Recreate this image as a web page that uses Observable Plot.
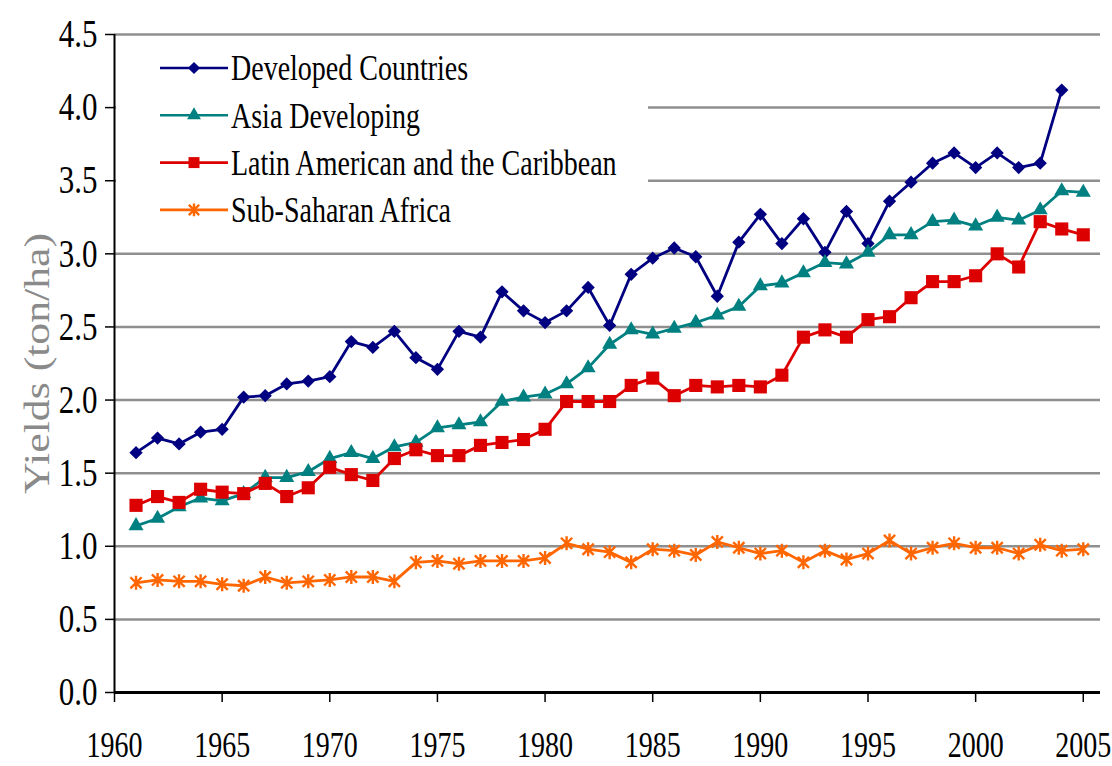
<!DOCTYPE html>
<html><head><meta charset="utf-8">
<script src="https://cdn.jsdelivr.net/npm/d3@7"></script>
<script src="https://cdn.jsdelivr.net/npm/@observablehq/plot@0.6"></script>
<style>body{margin:0;background:#fff;}</style>
</head><body><div id="chart"></div>
<script>
const years = [1961,1962,1963,1964,1965,1966,1967,1968,1969,1970,
  1971,1972,1973,1974,1975,1976,1977,1978,1979,1980,
  1981,1982,1983,1984,1985,1986,1987,1988,1989,1990,
  1991,1992,1993,1994,1995,1996,1997,1998,1999,2000,
  2001,2002,2003,2004,2005];
const developed = [1.64,1.74,1.70,1.78,1.80,2.02,2.03,2.11,2.13,2.16,
  2.40,2.36,2.47,2.29,2.21,2.47,2.43,2.74,2.61,2.53,
  2.61,2.77,2.51,2.86,2.97,3.04,2.98,2.71,3.08,3.27,
  3.07,3.24,3.01,3.29,3.07,3.36,3.49,3.62,3.69,3.59,
  3.69,3.59,3.62,4.12];
const asia = [1.14,1.19,1.27,1.33,1.31,1.36,1.47,1.47,1.51,1.60,
  1.64,1.60,1.68,1.71,1.81,1.83,1.85,1.99,2.02,2.04,
  2.11,2.22,2.38,2.48,2.45,2.49,2.53,2.58,2.64,2.78,
  2.80,2.87,2.94,2.93,3.01,3.13,3.13,3.22,3.23,3.19,
  3.25,3.23,3.30,3.43,3.42];
const latin = [1.28,1.34,1.30,1.39,1.37,1.36,1.43,1.34,1.40,1.54,
  1.49,1.45,1.60,1.66,1.62,1.62,1.69,1.71,1.73,1.80,
  1.99,1.99,1.99,2.10,2.15,2.03,2.10,2.09,2.10,2.09,
  2.17,2.43,2.48,2.43,2.55,2.57,2.70,2.81,2.81,2.85,
  3.00,2.91,3.22,3.17,3.13];
const ssa = [0.75,0.77,0.76,0.76,0.74,0.73,0.79,0.75,0.76,0.77,
  0.79,0.79,0.76,0.89,0.90,0.88,0.90,0.90,0.90,0.92,
  1.02,0.98,0.96,0.89,0.98,0.97,0.94,1.03,0.99,0.95,
  0.97,0.89,0.97,0.91,0.95,1.04,0.95,0.99,1.02,0.99,
  0.99,0.95,1.01,0.97,0.98];
const seriesNames = ["Developed Countries","Asia Developing","Latin American and the Caribbean","Sub-Saharan Africa"];
const seriesColors = ["#000080","#008080","#DD0000","#FF6600"];
const yTicks = [0,0.5,1,1.5,2,2.5,3,3.5,4,4.5];
const xTicks = [1960,1965,1970,1975,1980,1985,1990,1995,2000,2005];
const yLabel = "Yields (ton/ha)";

const starX = {draw(ctx, size) {
  const r = Math.sqrt(size / Math.PI), d = r * 0.8;
  ctx.moveTo(-d, -d); ctx.lineTo(d, d);
  ctx.moveTo(-d, d); ctx.lineTo(d, -d);
  ctx.moveTo(0, -r); ctx.lineTo(0, r);
}};

const seriesValues = [developed, asia, latin, ssa];
const markerOpts = [
  {symbol: "square", rotate: 45, r: 5.3, fill: seriesColors[0], stroke: "none"},
  {symbol: "triangle", r: 5.6, fill: seriesColors[1], stroke: "none"},
  {symbol: "square", r: 7.4, fill: seriesColors[2], stroke: "none"},
  {symbol: starX, r: 7, fill: "none", stroke: seriesColors[3], strokeWidth: 2.4}
];
const rowsBySeries = seriesValues.map((vals, s) =>
  vals.map((v, i) => ({series: seriesNames[s], year: years[i], value: v})));

const marks = [
  Plot.ruleY(yTicks.filter(d => d > 0), {stroke: "#8f8f8f", strokeWidth: 2.5}),
  Plot.axisY({ticks: yTicks, tickFormat: d3.format(".1f"), tickSize: 9, tickPadding: 8, fontSize: 31, label: null, stroke: "#000", strokeWidth: 1.5}),
  Plot.axisX({ticks: xTicks, tickFormat: d3.format("d"), tickSize: 10, tickPadding: 29, fontSize: 28, label: null, strokeWidth: 1.5}),
  Plot.ruleX([1960], {stroke: "#000", strokeWidth: 2}),
  Plot.ruleY([0], {stroke: "#000", strokeWidth: 3}),
  Plot.text([yLabel], {frameAnchor: "left", textAnchor: "middle", dx: -77, rotate: -90, fill: "#8a8a8a", fontSize: 35})
];
rowsBySeries.forEach((rows, s) => {
  marks.push(Plot.line(rows, {x: "year", y: "value", stroke: seriesColors[s], strokeWidth: 2.8}));
  marks.push(Plot.dot(rows, {x: "year", y: "value", ...markerOpts[s]}));
});

const chart = Plot.plot({
  width: 1112, height: 766,
  marginTop: 34, marginRight: 12, marginBottom: 74, marginLeft: 114,
  x: {domain: [1960, 2005.8]},
  y: {domain: [0, 4.5]},
  style: {fontFamily: "'Liberation Serif', 'Times New Roman', serif", background: "#fff", color: "#000", overflow: "visible"},
  marks
});
document.getElementById("chart").appendChild(chart);

const svg = d3.select(chart.tagName === "svg" ? chart : chart.querySelector("svg"));
// vertical stretch of text, as in the reference
svg.selectAll("text").each(function() {
  let t = this.getAttribute("transform");
  if (!t) {
    const x = +this.getAttribute("x") || 0, y = +this.getAttribute("y") || 0;
    this.removeAttribute("x"); this.removeAttribute("y");
    t = `translate(${x},${y})`;
  }
  this.setAttribute("transform", t + (t.includes("rotate") ? " scale(1.25,1)" : " scale(1,1.28)"));
});

// legend
const lg = svg.append("g");
lg.append("rect").attr("x", 116).attr("y", 44).attr("width", 532).attr("height", 194).attr("fill", "#fff");
const legendSymbols = [d3.symbolSquare, d3.symbolTriangle, d3.symbolSquare, starX];
seriesNames.forEach((name, i) => {
  const y = 68 + i * 47.3;
  const m = markerOpts[i];
  lg.append("line").attr("x1", 160).attr("x2", 228).attr("y1", y).attr("y2", y)
    .attr("stroke", seriesColors[i]).attr("stroke-width", 2.6);
  lg.append("path")
    .attr("d", d3.symbol(legendSymbols[i], Math.PI * m.r * m.r * (i === 2 ? 0.7 : 0.85))())
    .attr("transform", `translate(194,${y})` + (i === 0 ? " rotate(45)" : ""))
    .attr("fill", m.fill).attr("stroke", m.stroke).attr("stroke-width", m.strokeWidth || 0);
  lg.append("text").attr("transform", `translate(231,${y}) scale(1,1.27)`).attr("dy", "0.35em")
    .attr("text-anchor", "start").attr("font-size", 28).attr("fill", "#000").text(name);
});
</script>
</body></html>
